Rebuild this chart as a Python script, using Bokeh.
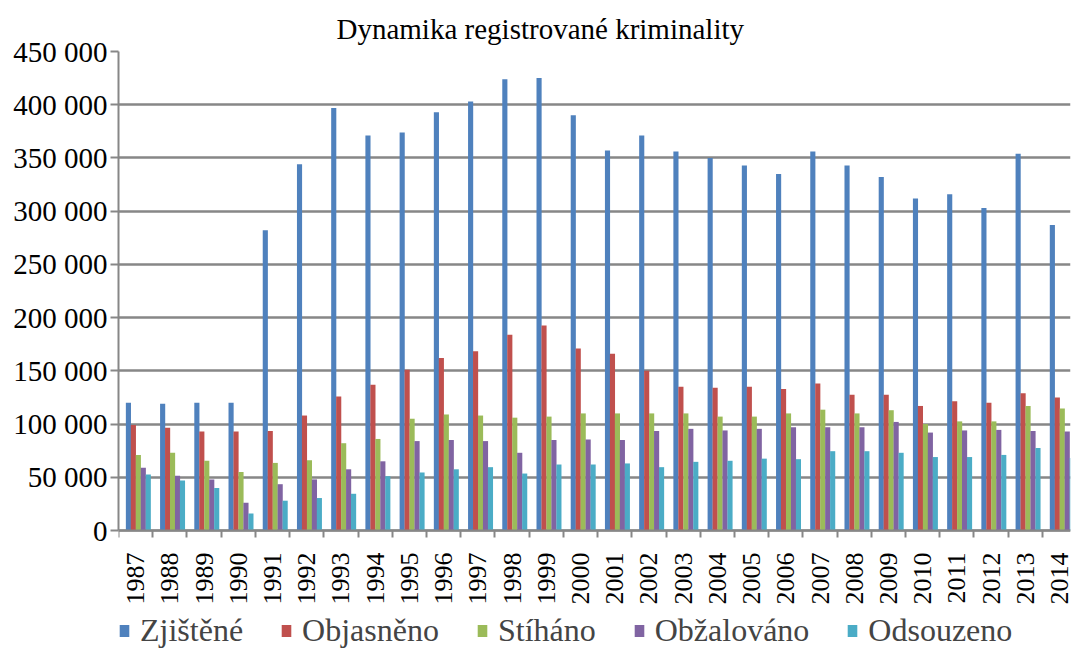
import math
from bokeh.plotting import figure
from bokeh.models import FixedTicker, Legend, LegendItem, Title
from bokeh.embed import file_html
from bokeh.resources import INLINE

years = [str(y) for y in range(1987, 2015)]
zjistene = [120000, 119000, 120000, 120000, 282000, 344000, 397000, 371000, 374000, 393000,
            403000, 424000, 425000, 390000, 357000, 371000, 356000, 350000, 343000, 335000,
            356000, 343000, 332000, 312000, 316000, 303000, 354000, 287000]
objasneno = [99000, 96500, 93000, 93000, 93500, 108000, 126000, 137000, 151000, 162000,
             168500, 184000, 192500, 171000, 166000, 150000, 135000, 134000, 135000, 133000,
             138000, 127500, 127500, 117000, 121500, 120000, 129000, 125000]
stihano = [71000, 73000, 65500, 55000, 63500, 66000, 82000, 86000, 105000, 109000,
           108000, 106000, 107000, 110000, 110000, 110000, 110000, 107000, 107000, 110000,
           113500, 110000, 113000, 100000, 102500, 102500, 117000, 114500]
obzalovano = [59000, 51500, 48000, 26000, 43500, 48000, 57500, 65000, 84000, 85000,
              84000, 73000, 85000, 85500, 85000, 93500, 95500, 94000, 95500, 97000,
              97000, 97000, 102000, 92000, 94000, 94500, 93500, 93000]
odsouzeno = [52500, 47000, 40000, 16000, 28000, 30500, 34500, 51000, 54500, 57500,
             59500, 53500, 62000, 62000, 63000, 59500, 64500, 65500, 67500, 67000,
             74500, 74500, 73000, 69000, 69000, 71000, 77500, 68000]

series_names = ["Zjištěné", "Objasněno", "Stíháno", "Obžalováno", "Odsouzeno"]
series_values = [zjistene, objasneno, stihano, obzalovano, odsouzeno]
colors = ["#4f81bd", "#c0504d", "#9bbb59", "#8064a2", "#4bacc6"]

y_ticks = [0, 50000, 100000, 150000, 200000, 250000, 300000, 350000, 400000, 450000]
y_labels = ["0", "50 000", "100 000", "150 000", "200 000", "250 000",
            "300 000", "350 000", "400 000", "450 000"]
title_text = "Dynamika registrované kriminality"

FONT = "Liberation Serif"
GRAY = "#878787"

n = len(years)
y_top = y_ticks[-1]
# frame extends below zero so the category axis and legend sit inside it
y_bottom = -y_top * 120 / 479
p = figure(width=1077, height=650, x_range=(0, 27.82), y_range=(y_bottom, y_top),
           output_backend="svg", toolbar_location=None, title=None,
           min_border_left=118, min_border_right=7, min_border_top=51,
           min_border_bottom=0)
p.outline_line_color = None
p.background_fill_color = "white"

offsets = [0.29, 0.435, 0.58, 0.725, 0.87]
items = []
for name, vals, col, off in zip(series_names, series_values, colors, offsets):
    xs = [i + off for i in range(n)]
    r = p.vbar(x=xs, top=vals, bottom=0, width=0.15, fill_color=col, line_color=None)
    items.append(LegendItem(label=name, renderers=[r]))

# y axis
p.yaxis.ticker = FixedTicker(ticks=y_ticks)
p.yaxis.bounds = (0, y_top)
p.yaxis.major_label_overrides = dict(zip(y_ticks, y_labels))
p.yaxis.major_label_text_font = FONT
p.yaxis.major_label_text_font_size = "29px"
p.yaxis.major_label_text_color = "black"
p.yaxis.major_label_standoff = 3
p.yaxis.major_tick_out = 8
p.yaxis.major_tick_in = 0
p.yaxis.major_tick_line_color = GRAY
p.yaxis.major_tick_line_width = 2
p.yaxis.minor_tick_line_color = None
p.yaxis.axis_line_color = GRAY
p.yaxis.axis_line_width = 2

# x axis
centers = [i + 0.5 for i in range(n)]
bounds = [float(i) for i in range(n + 1)]
p.xaxis.fixed_location = 0
p.xaxis.ticker = FixedTicker(ticks=centers, minor_ticks=bounds)
p.xaxis.major_label_overrides = dict(zip(centers, years))
p.xaxis.major_label_orientation = math.pi / 2
p.xaxis.major_label_text_font = FONT
p.xaxis.major_label_text_font_size = "26px"
p.xaxis.major_label_text_color = "black"
p.xaxis.major_label_standoff = 15
p.xaxis.major_tick_line_color = None
p.xaxis.major_tick_out = 0
p.xaxis.major_tick_in = 0
p.xaxis.minor_tick_line_color = GRAY
p.xaxis.minor_tick_line_width = 2
p.xaxis.minor_tick_out = 7
p.xaxis.minor_tick_in = 0
p.xaxis.axis_line_color = GRAY
p.xaxis.axis_line_width = 2

p.xgrid.grid_line_color = None
p.ygrid.grid_line_color = GRAY
p.ygrid.grid_line_width = 2.5

legend = Legend(items=items, orientation="horizontal", location=(0, 1),
                label_text_font=FONT, label_text_font_size="32px",
                glyph_width=12, glyph_height=15, label_standoff=10, spacing=37,
                padding=0, margin=0, border_line_color=None,
                background_fill_alpha=0, label_height=30)
p.add_layout(legend, "center")

title = Title(text=title_text, align="left", offset=218, text_font=FONT,
              text_font_size="29px", text_font_style="normal", text_color="black",
              standoff=14)
p.add_layout(title, "above")

open("out.html", "w").write(file_html(p, INLINE))
